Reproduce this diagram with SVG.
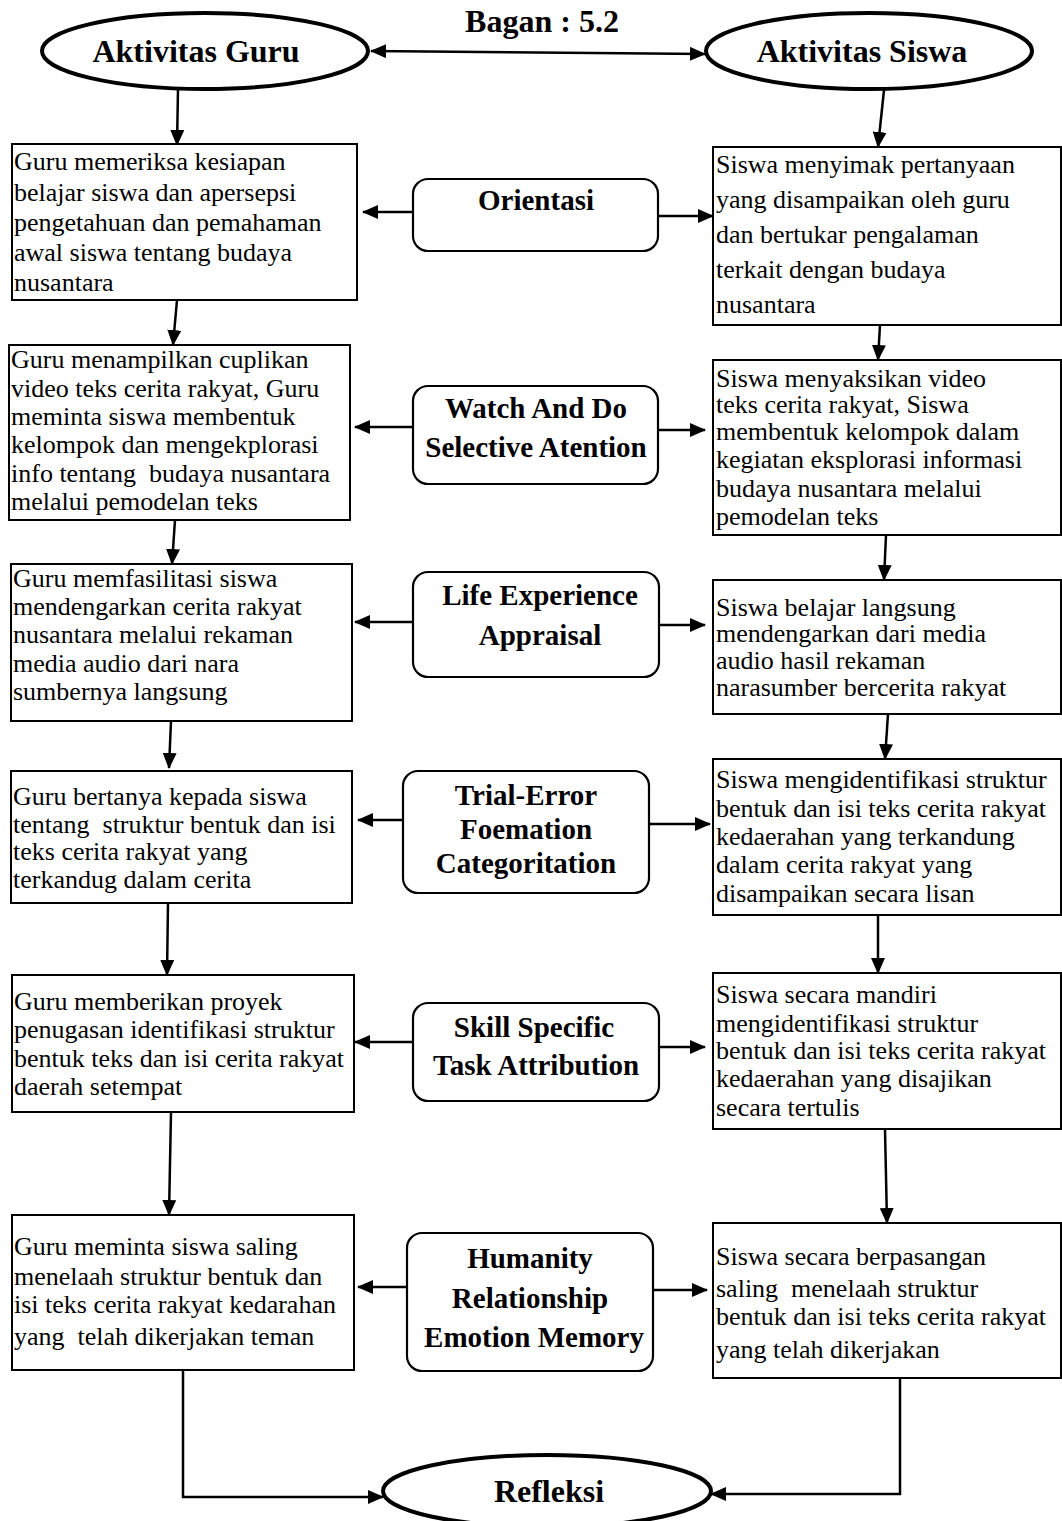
<svg xmlns="http://www.w3.org/2000/svg" width="1062" height="1521" viewBox="0 0 1062 1521">
<defs>
<style>
.box{fill:#fff;stroke:#000;stroke-width:2}
.mid{fill:#fff;stroke:#000;stroke-width:2.2}
.ell{fill:#fff;stroke:#000;stroke-width:4}
.t{font-family:"Liberation Serif","Times New Roman",serif;font-size:26px;fill:#000;white-space:pre}
.m{font-family:"Liberation Serif","Times New Roman",serif;font-size:29px;font-weight:bold;fill:#000;text-anchor:middle}
.h{font-family:"Liberation Serif","Times New Roman",serif;font-size:32px;font-weight:bold;fill:#000;text-anchor:middle}
.c{fill:none;stroke:#000;stroke-width:2.5}
</style>
<marker id="ah" viewBox="0 0 16 14" refX="15" refY="7" markerWidth="16" markerHeight="14" markerUnits="userSpaceOnUse" orient="auto-start-reverse">
<path d="M0,0 L16,7 L0,14 z" fill="#000"/>
</marker>
</defs>

<g id="connectors">
<line class="c" x1="371" y1="51" x2="705" y2="54" marker-start="url(#ah)" marker-end="url(#ah)"/>
<line class="c" x1="178" y1="89" x2="177" y2="145" marker-end="url(#ah)"/>
<line class="c" x1="884" y1="90" x2="878" y2="147" marker-end="url(#ah)"/>
<line class="c" x1="177" y1="300" x2="173" y2="345" marker-end="url(#ah)"/>
<line class="c" x1="175" y1="520" x2="172" y2="564" marker-end="url(#ah)"/>
<line class="c" x1="171" y1="721" x2="169" y2="768" marker-end="url(#ah)"/>
<line class="c" x1="168" y1="903" x2="167" y2="975" marker-end="url(#ah)"/>
<line class="c" x1="171" y1="1112" x2="169" y2="1215" marker-end="url(#ah)"/>
<line class="c" x1="880" y1="325" x2="878" y2="360" marker-end="url(#ah)"/>
<line class="c" x1="886" y1="535" x2="884" y2="580" marker-end="url(#ah)"/>
<line class="c" x1="888" y1="714" x2="885" y2="759" marker-end="url(#ah)"/>
<line class="c" x1="878" y1="915" x2="878" y2="973" marker-end="url(#ah)"/>
<line class="c" x1="885" y1="1129" x2="887" y2="1223" marker-end="url(#ah)"/>
<line class="c" x1="413" y1="212" x2="363" y2="212" marker-end="url(#ah)"/>
<line class="c" x1="658" y1="216" x2="713" y2="216" marker-end="url(#ah)"/>
<line class="c" x1="413" y1="427" x2="355" y2="427" marker-end="url(#ah)"/>
<line class="c" x1="658" y1="430" x2="705" y2="430" marker-end="url(#ah)"/>
<line class="c" x1="413" y1="622" x2="355" y2="622" marker-end="url(#ah)"/>
<line class="c" x1="659" y1="625" x2="705" y2="625" marker-end="url(#ah)"/>
<line class="c" x1="403" y1="820" x2="358" y2="820" marker-end="url(#ah)"/>
<line class="c" x1="649" y1="824" x2="710" y2="824" marker-end="url(#ah)"/>
<line class="c" x1="413" y1="1042" x2="355" y2="1042" marker-end="url(#ah)"/>
<line class="c" x1="659" y1="1047" x2="705" y2="1047" marker-end="url(#ah)"/>
<line class="c" x1="407" y1="1287" x2="358" y2="1287" marker-end="url(#ah)"/>
<line class="c" x1="653" y1="1290" x2="707" y2="1290" marker-end="url(#ah)"/>
<polyline class="c" points="183,1370 183,1497 383,1497" marker-end="url(#ah)"/>
<polyline class="c" points="900,1378 900,1494 711,1494" marker-end="url(#ah)"/>
</g>

<text class="h" x="542" y="32">Bagan : 5.2</text>

<g id="guru">
<ellipse class="ell" cx="205" cy="51" rx="163" ry="38"/>
<text class="h" x="196" y="62">Aktivitas Guru</text>
</g>
<g id="siswa">
<ellipse class="ell" cx="869" cy="51" rx="163" ry="38"/>
<text class="h" x="862" y="62">Aktivitas Siswa</text>
</g>

<g id="orientasi">
<rect class="mid" x="413" y="179" width="245" height="72" rx="15"/>
<text class="m" x="536" y="210">Orientasi</text>
</g>
<g id="watch">
<rect class="mid" x="413" y="386" width="245" height="98" rx="15"/>
<text class="m" x="536" y="418">Watch And Do</text>
<text class="m" x="536" y="457">Selective Atention</text>
</g>
<g id="life">
<rect class="mid" x="413" y="572" width="246" height="105" rx="15"/>
<text class="m" x="540" y="605">Life Experience</text>
<text class="m" x="540" y="645">Appraisal</text>
</g>
<g id="trial">
<rect class="mid" x="403" y="771" width="246" height="122" rx="15"/>
<text class="m" x="526" y="805">Trial-Error</text>
<text class="m" x="526" y="839">Foemation</text>
<text class="m" x="526" y="873">Categoritation</text>
</g>
<g id="skill">
<rect class="mid" x="413" y="1003" width="246" height="98" rx="15"/>
<text class="m" x="534" y="1037">Skill Specific</text>
<text class="m" x="536" y="1075">Task Attribution</text>
</g>
<g id="humanity">
<rect class="mid" x="407" y="1233" width="246" height="138" rx="15"/>
<text class="m" x="530" y="1268">Humanity</text>
<text class="m" x="530" y="1308">Relationship</text>
<text class="m" x="534" y="1347">Emotion Memory</text>
</g>

<g id="guru1">
<rect class="box" x="12" y="144" width="345" height="156"/>
<text class="t" x="14" y="170">Guru memeriksa kesiapan</text>
<text class="t" x="14" y="201">belajar siswa dan apersepsi</text>
<text class="t" x="14" y="231">pengetahuan dan pemahaman</text>
<text class="t" x="14" y="261">awal siswa tentang budaya</text>
<text class="t" x="14" y="291">nusantara</text>
</g>
<g id="siswa1">
<rect class="box" x="713" y="147" width="348" height="178"/>
<text class="t" x="716" y="173">Siswa menyimak pertanyaan</text>
<text class="t" x="716" y="208">yang disampaikan oleh guru</text>
<text class="t" x="716" y="243">dan bertukar pengalaman</text>
<text class="t" x="716" y="278">terkait dengan budaya</text>
<text class="t" x="716" y="313">nusantara</text>
</g>
<g id="guru2">
<rect class="box" x="9" y="345" width="341" height="175"/>
<text class="t" x="11" y="368">Guru menampilkan cuplikan</text>
<text class="t" x="11" y="397">video teks cerita rakyat, Guru</text>
<text class="t" x="11" y="425">meminta siswa membentuk</text>
<text class="t" x="11" y="453">kelompok dan mengekplorasi</text>
<text class="t" x="11" y="482">info tentang  budaya nusantara</text>
<text class="t" x="11" y="510">melalui pemodelan teks</text>
</g>
<g id="siswa2">
<rect class="box" x="713" y="360" width="348" height="175"/>
<text class="t" x="716" y="387">Siswa menyaksikan video</text>
<text class="t" x="716" y="413">teks cerita rakyat, Siswa</text>
<text class="t" x="716" y="440">membentuk kelompok dalam</text>
<text class="t" x="716" y="468">kegiatan eksplorasi informasi</text>
<text class="t" x="716" y="497">budaya nusantara melalui</text>
<text class="t" x="716" y="525">pemodelan teks</text>
</g>
<g id="guru3">
<rect class="box" x="11" y="564" width="341" height="157"/>
<text class="t" x="13" y="587">Guru memfasilitasi siswa</text>
<text class="t" x="13" y="615">mendengarkan cerita rakyat</text>
<text class="t" x="13" y="643">nusantara melalui rekaman</text>
<text class="t" x="13" y="672">media audio dari nara</text>
<text class="t" x="13" y="700">sumbernya langsung</text>
</g>
<g id="siswa3">
<rect class="box" x="713" y="580" width="348" height="134"/>
<text class="t" x="716" y="616">Siswa belajar langsung</text>
<text class="t" x="716" y="642">mendengarkan dari media</text>
<text class="t" x="716" y="669">audio hasil rekaman</text>
<text class="t" x="716" y="696">narasumber bercerita rakyat</text>
</g>
<g id="guru4">
<rect class="box" x="11" y="771" width="341" height="132"/>
<text class="t" x="13" y="805">Guru bertanya kepada siswa</text>
<text class="t" x="13" y="833">tentang  struktur bentuk dan isi</text>
<text class="t" x="13" y="860">teks cerita rakyat yang</text>
<text class="t" x="13" y="888">terkandug dalam cerita</text>
</g>
<g id="siswa4">
<rect class="box" x="713" y="759" width="348" height="156"/>
<text class="t" x="716" y="788">Siswa mengidentifikasi struktur</text>
<text class="t" x="716" y="817">bentuk dan isi teks cerita rakyat</text>
<text class="t" x="716" y="845">kedaerahan yang terkandung</text>
<text class="t" x="716" y="873">dalam cerita rakyat yang</text>
<text class="t" x="716" y="902">disampaikan secara lisan</text>
</g>
<g id="guru5">
<rect class="box" x="12" y="975" width="342" height="137"/>
<text class="t" x="14" y="1010">Guru memberikan proyek</text>
<text class="t" x="14" y="1038">penugasan identifikasi struktur</text>
<text class="t" x="14" y="1067">bentuk teks dan isi cerita rakyat</text>
<text class="t" x="14" y="1095">daerah setempat</text>
</g>
<g id="siswa5">
<rect class="box" x="713" y="973" width="348" height="156"/>
<text class="t" x="716" y="1003">Siswa secara mandiri</text>
<text class="t" x="716" y="1032">mengidentifikasi struktur</text>
<text class="t" x="716" y="1059">bentuk dan isi teks cerita rakyat</text>
<text class="t" x="716" y="1087">kedaerahan yang disajikan</text>
<text class="t" x="716" y="1116">secara tertulis</text>
</g>
<g id="guru6">
<rect class="box" x="12" y="1215" width="342" height="155"/>
<text class="t" x="14" y="1255">Guru meminta siswa saling</text>
<text class="t" x="14" y="1285">menelaah struktur bentuk dan</text>
<text class="t" x="14" y="1313">isi teks cerita rakyat kedarahan</text>
<text class="t" x="14" y="1345">yang  telah dikerjakan teman</text>
</g>
<g id="siswa6">
<rect class="box" x="713" y="1223" width="348" height="155"/>
<text class="t" x="716" y="1265">Siswa secara berpasangan</text>
<text class="t" x="716" y="1297">saling  menelaah struktur</text>
<text class="t" x="716" y="1325">bentuk dan isi teks cerita rakyat</text>
<text class="t" x="716" y="1358">yang telah dikerjakan</text>
</g>

<g id="refleksi">
<ellipse class="ell" cx="547" cy="1491" rx="164" ry="36"/>
<text class="h" x="549" y="1502">Refleksi</text>
</g>
</svg>
